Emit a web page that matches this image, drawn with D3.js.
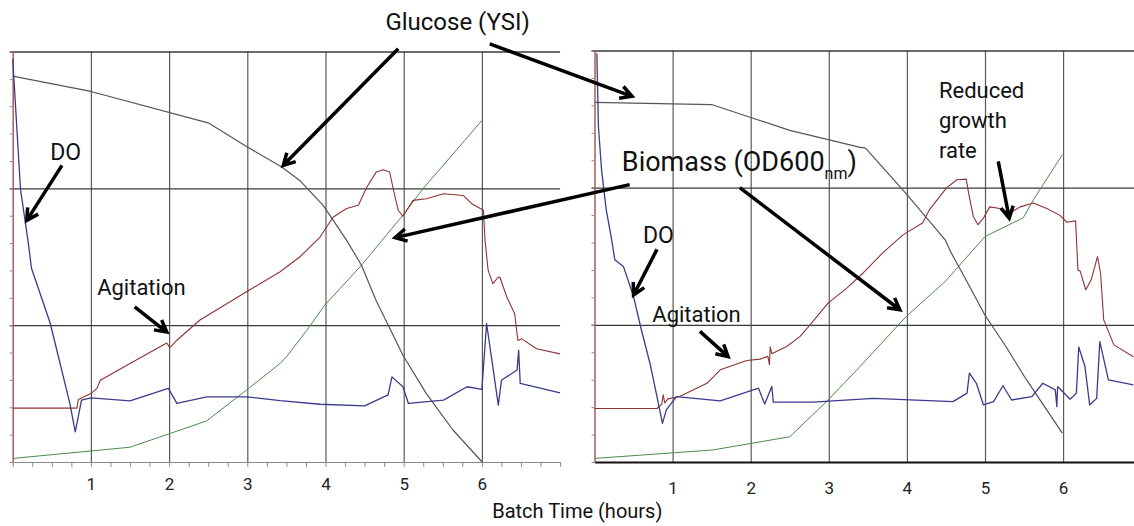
<!DOCTYPE html>
<html>
<head>
<meta charset="utf-8">
<script src="https://cdn.jsdelivr.net/npm/d3@7"></script>
<style>
  body { margin: 0; background: white; }
  svg { display: block; font-family: Roboto, sans-serif; }
</style>
</head>
<body>
<script>
// ---- data (hours, arbitrary trend units 0-15) ----
const leftGlucose = [[0,14.1],[1,13.54],[2.51,12.38],[3,11.51],[3.44,10.78],[3.67,10.29],[3.97,9.38],[4.1,8.83],[4.27,8.1],[4.46,7.19],[4.65,5.88],[4.82,4.9],[4.99,3.9],[5.29,2.5],[5.63,1.17],[6,0.01]];
const leftDO = [[0,14.74],[0.1,9.96],[0.2,8.0],[0.24,7.08],[0.48,5.07],[0.73,2.15],[0.8,1.1],[0.88,2.26],[1,2.34],[1.5,2.23],[1.99,2.69],[2.1,2.14],[2.48,2.38],[2.99,2.38],[3.42,2.24],[3.93,2.11],[4.5,2.05],[4.8,2.45],[4.85,3.11],[4.99,2.75],[5.06,2.14],[5.51,2.26],[5.81,2.75],[6,2.65],[6.06,5.06],[6.21,2.08],[6.25,2.99],[6.45,3.36],[6.47,4.09],[6.49,2.87],[7,2.53]];
const leftAgitation = [[0,1.97],[0.82,1.97],[0.84,2.28],[1,2.5],[1.08,2.7],[1.12,2.99],[1.5,3.6],[1.97,4.35],[2.01,4.18],[2.1,4.45],[2.39,5.18],[2.99,6.22],[3.42,6.95],[3.67,7.49],[3.93,8.22],[4.1,8.95],[4.27,9.26],[4.42,9.38],[4.53,10.05],[4.65,10.6],[4.74,10.68],[4.82,10.6],[4.87,9.93],[4.93,9.2],[4.99,8.98],[5.12,9.56],[5.29,9.62],[5.51,9.8],[5.76,9.74],[5.87,9.44],[6.02,9.2],[6.04,8.1],[6.08,7.0],[6.14,6.52],[6.21,6.76],[6.23,6.75],[6.32,6.02],[6.42,5.41],[6.46,4.44],[6.51,4.5],[6.7,4.14],[7,3.95]];
const leftBiomass = [[0,0.13],[1.5,0.54],[2.48,1.5],[2.99,2.63],[3.42,3.6],[3.5,3.84],[3.76,4.81],[3.99,5.73],[4.46,7.19],[4.99,9.02],[5.25,10.0],[5.78,11.75],[6,12.48]];

const rightGlucose = [[0,13.11],[1.5,13.03],[2.01,12.55],[2.5,12.09],[3.39,11.48],[3.47,11.44],[3.99,9.78],[4.29,8.77],[4.49,8.1],[4.56,7.66],[4.77,6.57],[5,5.35],[5.27,4.2],[5.53,3.0],[5.99,1.05]];
const rightDO = [[0.03,14.9],[0.05,12.24],[0.09,10.66],[0.15,9.2],[0.22,8.1],[0.26,7.37],[0.37,7.13],[0.5,6.03],[0.6,4.82],[0.71,3.6],[0.8,2.38],[0.87,1.41],[0.92,1.9],[1.05,2.38],[1.61,2.23],[2.1,2.69],[2.18,2.11],[2.27,2.75],[2.29,2.18],[2.8,2.18],[3.57,2.32],[4.59,2.2],[4.77,2.51],[4.8,3.24],[4.89,2.87],[4.98,2.08],[5.11,2.2],[5.23,2.78],[5.34,2.26],[5.6,2.38],[5.74,2.87],[5.9,2.63],[5.92,2.02],[5.93,2.75],[6.09,2.29],[6.17,2.51],[6.2,4.19],[6.28,3.48],[6.34,2.08],[6.43,2.32],[6.47,4.39],[6.58,2.99],[6.9,2.81]];
const rightAgitation = [[0,1.95],[0.8,1.95],[0.86,2.1],[0.88,2.45],[0.9,2.15],[0.94,2.3],[1.09,2.39],[1.44,2.87],[1.61,3.36],[1.95,3.7],[2.12,3.75],[2.22,3.85],[2.24,3.55],[2.25,4.2],[2.27,3.95],[2.46,4.21],[2.63,4.57],[2.76,5.0],[2.99,5.79],[3.23,6.34],[3.44,6.89],[3.69,7.62],[3.95,8.28],[4.2,8.71],[4.29,9.2],[4.51,10.0],[4.64,10.29],[4.76,10.31],[4.79,9.8],[4.85,8.95],[4.91,8.65],[4.98,8.89],[5.06,9.3],[5.19,9.24],[5.32,9.08],[5.45,9.3],[5.62,9.44],[5.79,9.24],[5.96,8.99],[6.05,8.74],[6.16,8.79],[6.19,7.0],[6.22,6.95],[6.29,6.28],[6.36,6.64],[6.44,7.49],[6.48,6.88],[6.52,5.18],[6.65,4.27],[6.9,3.84]];
const rightBiomass = [[0,0.13],[1.52,0.44],[2.5,0.92],[2.97,2.2],[3.4,3.48],[3.99,5.3],[4.49,6.58],[4.68,7.19],[5,8.22],[5.49,8.9],[5.62,9.56],[5.99,11.2]];

const hourLabels = [1, 2, 3, 4, 5, 6];
const gridHours = [1, 2, 3, 4, 5, 6];
const gridLevels = [5, 10, 15];

const width = 1134, height = 526;
const svg = d3.select("body").append("svg")
    .attr("width", width)
    .attr("height", height);

const colors = {glucose: "#555555", dO: "#3b3b8e", agitation: "#8e3333", biomass: "#4a8c4a"};

// two panels side by side, same hour span
const panels = [
    {x: d3.scaleLinear().domain([0, 7]).range([12.7, 560.1]),
     y: d3.scaleLinear().domain([0, 15]).range([462, 51.5]),
     series: [[leftBiomass, colors.biomass, 1], [leftGlucose, colors.glucose, 1.2], [leftAgitation, colors.agitation, 1.1], [leftDO, colors.dO, 1.3]],
     labelPad: 16, bottomTicks: true},
    {x: d3.scaleLinear().domain([0, 7]).range([594.5, 1141.2]),
     y: d3.scaleLinear().domain([0, 15]).range([462, 50.5]),
     series: [[rightBiomass, colors.biomass, 1], [rightGlucose, colors.glucose, 1.2], [rightAgitation, colors.agitation, 1.1], [rightDO, colors.dO, 1.3]],
     labelPad: 20, bottomTicks: false}
];

panels.forEach(p => {
    const g = svg.append("g");
    const x0 = p.x(0), x1 = p.x(7);

    // vertical grid
    g.append("g")
        .attr("transform", `translate(0,${p.y(0)})`)
        .call(d3.axisBottom(p.x).tickValues(gridHours).tickSize(-(p.y(0) - p.y(15))).tickFormat(""))
        .call(s => s.select(".domain").remove())
        .selectAll("line").attr("stroke", "#5a5a5a").attr("stroke-width", 1.2);

    // horizontal grid (sticks out a little left of the axis)
    g.append("g")
        .attr("transform", `translate(${x0 - 3},0)`)
        .call(d3.axisLeft(p.y).tickValues(gridLevels).tickSize(-(x1 - x0 + 3)).tickFormat(""))
        .call(s => s.select(".domain").remove())
        .selectAll("line").attr("stroke", "#3a3a3a").attr("stroke-width", 1.3);

    // bottom axis
    const bottom = g.append("g")
        .attr("transform", `translate(0,${p.y(0)})`)
        .call(d3.axisBottom(p.x).tickValues(p.bottomTicks ? d3.range(0, 7.01, 0.25) : []).tickSize(5).tickFormat("").tickSizeOuter(0));
    bottom.select(".domain")
        .attr("stroke", p.bottomTicks ? "#8a8a8a" : "#111")
        .attr("stroke-width", p.bottomTicks ? 1.2 : 2.2);
    bottom.selectAll("line").attr("stroke", "#8a8a8a");

    // hour labels
    g.append("g")
        .attr("transform", `translate(0,${p.y(0)})`)
        .call(d3.axisBottom(p.x).tickValues(hourLabels).tickFormat(d3.format("d")).tickSize(0).tickPadding(p.labelPad))
        .call(s => s.select(".domain").remove())
        .selectAll("text")
        .attr("font-family", "Roboto, sans-serif")
        .attr("font-size", 17)
        .attr("fill", "#222");

    // red left axis with minor ticks
    const left = g.append("g")
        .attr("transform", `translate(${x0},0)`)
        .call(d3.axisLeft(p.y).tickValues(d3.range(0, 16)).tickSize(3).tickFormat("").tickSizeOuter(0));
    left.select(".domain").attr("stroke", "#b05a5a").attr("stroke-width", 1.5);
    left.selectAll("line").attr("stroke", "#8a8a8a");

    const line = d3.line().x(d => p.x(d[0])).y(d => p.y(d[1]));
    p.series.forEach(([data, color, w]) => {
        g.append("path")
            .datum(data)
            .attr("d", line)
            .attr("fill", "none")
            .attr("stroke", color)
            .attr("stroke-width", w)
            .attr("stroke-linejoin", "round");
    });
});

// ---- annotations, positioned in panel data units: [panel, hour, level] ----
const L = panels[0], R = panels[1];
const pt = (p, h, v) => [p.x(h), p.y(v)];

const arrows = [
    [[L, 4.93, 15.1], [L, 3.46, 10.84]],
    [[L, 6.1, 15.28], [R, 0.48, 13.33]],
    [[L, 0.63, 10.84], [L, 0.18, 8.83]],
    [[L, 1.56, 5.67], [L, 1.97, 4.75]],
    [[R, 0.45, 10.11], [L, 4.89, 8.2]],
    [[R, 1.86, 10.0], [R, 3.91, 5.55]],
    [[R, 0.8, 7.75], [R, 0.5, 6.09]],
    [[R, 1.35, 4.76], [R, 1.71, 3.84]],
    [[R, 5.17, 10.96], [R, 5.31, 8.89]]
];

arrows.forEach(([a, b]) => {
    const [xa, ya] = pt(...a), [xb, yb] = pt(...b);
    const ang = Math.atan2(yb - ya, xb - xa);
    const hl = 13, spread = 0.5;
    const h1 = [xb - hl * Math.cos(ang - spread), yb - hl * Math.sin(ang - spread)];
    const h2 = [xb - hl * Math.cos(ang + spread), yb - hl * Math.sin(ang + spread)];
    svg.append("path")
        .attr("d", `M${xa},${ya}L${xb},${yb}M${h1}L${xb},${yb}L${h2}`)
        .attr("fill", "none")
        .attr("stroke", "black")
        .attr("stroke-width", 3.5)
        .attr("stroke-linejoin", "miter");
});

const labels = [
    {p: L, h: 5.69, v: 15.77, text: "Glucose (YSI)", size: 24, anchor: "middle"},
    {p: L, h: 0.48, v: 11.02, text: "DO", size: 23, anchor: "start"},
    {p: L, h: 1.08, v: 6.1, text: "Agitation", size: 22, anchor: "start"},
    {p: R, h: 0.62, v: 7.99, text: "DO", size: 23, anchor: "start"},
    {p: R, h: 0.74, v: 5.1, text: "Agitation", size: 22, anchor: "start"}
];

labels.forEach(d => {
    const [lx, ly] = pt(d.p, d.h, d.v);
    svg.append("text")
        .attr("x", lx).attr("y", ly)
        .attr("text-anchor", d.anchor)
        .attr("font-size", d.size)
        .attr("fill", "#111")
        .text(d.text);
});

// Biomass label with subscript
const [bx, by] = pt(R, 0.35, 10.62);
const bio = svg.append("text").attr("x", bx).attr("y", by).attr("font-size", 27).attr("fill", "#111");
bio.append("tspan").text("Biomass (OD600");
bio.append("tspan").attr("font-size", 16).attr("dy", 8).text("nm");
bio.append("tspan").attr("dy", -8).text(")");

// Reduced growth rate (three lines)
const [rx, ry] = pt(R, 4.41, 13.28);
const red = svg.append("text").attr("x", rx).attr("y", ry).attr("font-size", 22).attr("fill", "#111");
["Reduced", "growth", "rate"].forEach((t, i) => {
    red.append("tspan").attr("x", rx).attr("dy", i === 0 ? 0 : 30).text(t);
});

// shared x title
svg.append("text")
    .attr("x", (L.x(7) + R.x(0)) / 2)
    .attr("y", 518)
    .attr("text-anchor", "middle")
    .attr("font-size", 20)
    .attr("fill", "#111")
    .text("Batch Time (hours)");
</script>
</body>
</html>
